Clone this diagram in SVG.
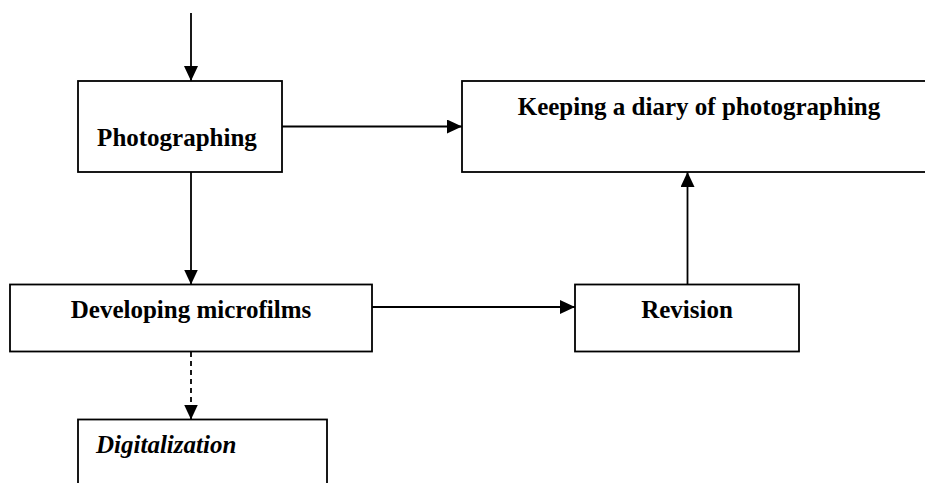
<svg xmlns="http://www.w3.org/2000/svg" width="925" height="483" viewBox="0 0 925 483">
<style>
.box{fill:#fff;stroke:#000;stroke-width:1.8}
.t{font-family:"Liberation Serif","Times New Roman",serif;font-weight:bold;font-size:25px;fill:#000}
.c{fill:none;stroke:#000;stroke-width:1.8}
</style>
<defs>
<marker id="ah" markerWidth="15" markerHeight="14" refX="15" refY="7" viewBox="0 0 15 14" markerUnits="userSpaceOnUse" orient="auto">
<path d="M0,0 L15,7 L0,14 Z" fill="#000"/>
</marker>
</defs>
<rect width="925" height="483" fill="#fff"/>
<g id="photographing">
<rect class="box" x="78" y="81" width="204" height="91"/>
<text class="t" x="177" y="146" text-anchor="middle">Photographing</text>
</g>
<g id="keeping">
<rect class="box" x="462" y="81" width="480" height="91"/>
<text class="t" x="699" y="115" text-anchor="middle">Keeping a diary of photographing</text>
</g>
<g id="developing">
<rect class="box" x="10" y="284.5" width="362" height="67"/>
<text class="t" x="191" y="318" text-anchor="middle">Developing microfilms</text>
</g>
<g id="revision">
<rect class="box" x="575" y="284.5" width="224" height="67"/>
<text class="t" x="687" y="318" text-anchor="middle">Revision</text>
</g>
<g id="digitalization">
<rect class="box" x="78" y="419.5" width="249" height="90"/>
<text class="t" x="96" y="453" font-style="italic">Digitalization</text>
</g>
<g id="connectors">
<line class="c" x1="191" y1="13" x2="191" y2="81" marker-end="url(#ah)"/>
<line class="c" x1="282" y1="126.5" x2="462" y2="126.5" marker-end="url(#ah)"/>
<line class="c" x1="191" y1="172" x2="191" y2="284.5" marker-end="url(#ah)"/>
<line class="c" x1="372" y1="307" x2="575" y2="307" marker-end="url(#ah)"/>
<line class="c" x1="687.5" y1="284.5" x2="687.5" y2="172" marker-end="url(#ah)"/>
<line class="c" x1="191" y1="352" x2="191" y2="419.5" stroke-dasharray="5,4" marker-end="url(#ah)"/>
</g>
</svg>
